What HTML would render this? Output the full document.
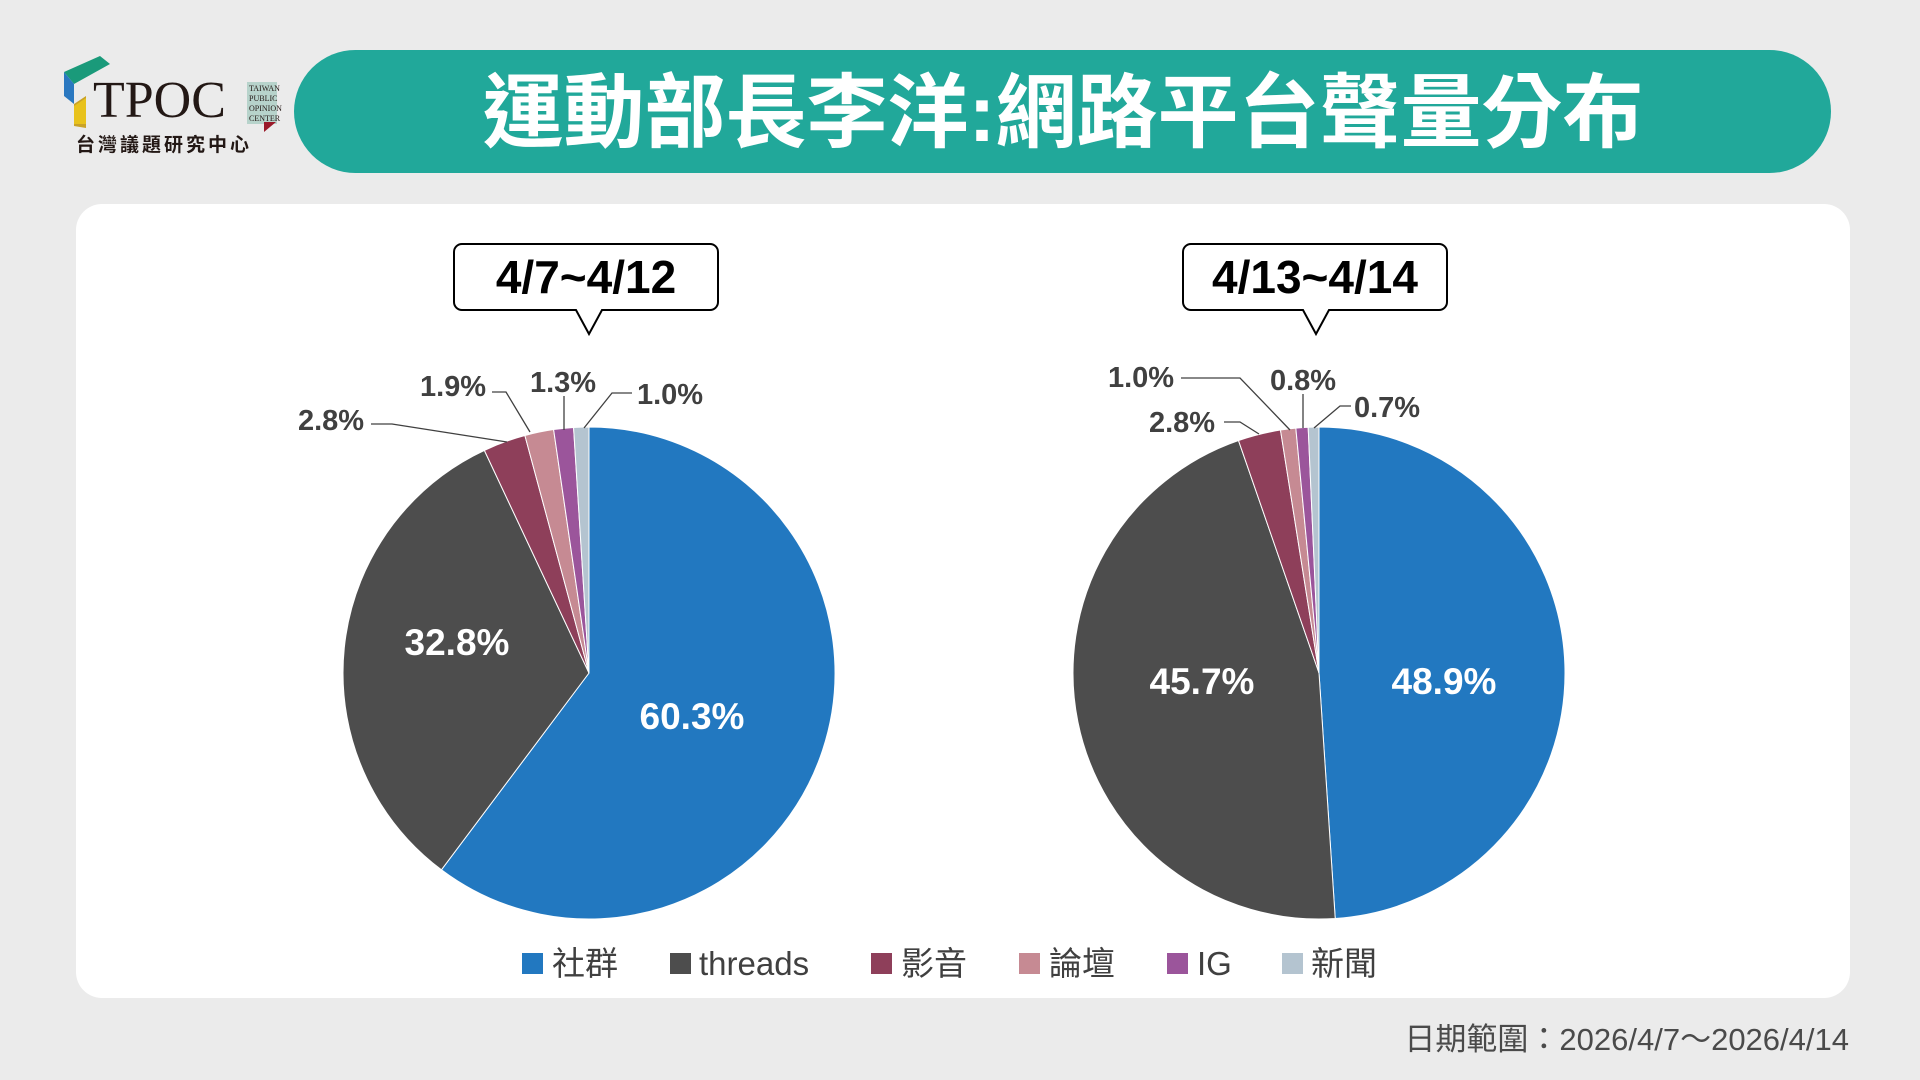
<!DOCTYPE html>
<html><head><meta charset="utf-8"><style>
body{margin:0;background:#ebebeb;}
svg{display:block;font-family:"Liberation Sans","Noto Sans CJK TC",sans-serif;}
</style></head><body>
<svg id="s" width="1920" height="1080" viewBox="0 0 1920 1080" xmlns="http://www.w3.org/2000/svg">
<rect width="1920" height="1080" fill="#ebebeb"/>
<!-- logo -->
<polygon points="64,72 100,56 110,64 74,84" fill="#1a9a7a"/>
<polygon points="64,72 74,84 74,104 64,96" fill="#2a78c0"/>
<polygon points="74,104 86,96 86,128 74,126" fill="#c9a227"/>
<polygon points="74,106 86,98 86,124 74,124" fill="#e8c21c"/>
<text x="93" y="117" font-family="Liberation Serif,serif" font-size="52" fill="#231815">TPOC</text>
<rect x="247" y="82" width="30" height="42" fill="#1a8a6a" opacity="0.25"/>
<text x="249" y="91" font-family="Liberation Serif,serif" font-size="8" fill="#231815">TAIWAN</text>
<text x="249" y="101" font-family="Liberation Serif,serif" font-size="8" fill="#231815">PUBLIC</text>
<text x="249" y="111" font-family="Liberation Serif,serif" font-size="8" fill="#231815">OPINION</text>
<text x="249" y="121" font-family="Liberation Serif,serif" font-size="8" fill="#231815">CENTER</text>
<polygon points="264,122 276,122 264,132" fill="#9a1a2a"/>
<text x="76" y="151" font-size="19" font-weight="bold" fill="#231815" letter-spacing="3">台灣議題研究中心</text>
<!-- title -->
<rect x="294" y="50" width="1537" height="123" rx="61.5" fill="#21a89a"/>
<text x="1063" y="141" text-anchor="middle" font-size="81" font-weight="bold" fill="#fff">運動部長李洋:網路平台聲量分布</text>
<!-- card -->
<rect x="76" y="204" width="1774" height="794" rx="26" fill="#fff"/>
<g id="p1"></g><g id="p2"></g>
<!-- callouts -->
<path d="M462,244 H710 a8,8 0 0 1 8,8 V302 a8,8 0 0 1 -8,8 H602 L589,334 L576,310 H462 a8,8 0 0 1 -8,-8 V252 a8,8 0 0 1 8,-8 Z" fill="#fff" stroke="#000" stroke-width="2"/>
<text x="586" y="293" text-anchor="middle" font-size="46" font-weight="bold" fill="#000">4/7~4/12</text>
<path d="M1191,244 H1439 a8,8 0 0 1 8,8 V302 a8,8 0 0 1 -8,8 H1329 L1316,334 L1303,310 H1191 a8,8 0 0 1 -8,-8 V252 a8,8 0 0 1 8,-8 Z" fill="#fff" stroke="#000" stroke-width="2"/>
<text x="1315" y="293" text-anchor="middle" font-size="46" font-weight="bold" fill="#000">4/13~4/14</text>
<!-- labels -->
<g font-weight="bold" font-size="29" fill="#404040">
<text x="331" y="430" text-anchor="middle">2.8%</text>
<text x="453" y="396" text-anchor="middle">1.9%</text>
<text x="563" y="392" text-anchor="middle">1.3%</text>
<text x="670" y="404" text-anchor="middle">1.0%</text>
<text x="1182" y="432" text-anchor="middle">2.8%</text>
<text x="1141" y="387" text-anchor="middle">1.0%</text>
<text x="1303" y="390" text-anchor="middle">0.8%</text>
<text x="1387" y="417" text-anchor="middle">0.7%</text>
</g>
<g stroke="#404040" stroke-width="1.3" fill="none">
<polyline points="371,424 392,424 507,442"/>
<polyline points="492,392 506,392 530,432"/>
<polyline points="564,396 564,430"/>
<polyline points="632,393 612,393 584,428"/>
<polyline points="1224,422 1240,422 1259,434"/>
<polyline points="1181,378 1240,378 1290,430"/>
<polyline points="1303,394 1303,428"/>
<polyline points="1351,406 1340,406 1314,428"/>
</g>
<g font-weight="bold" font-size="37" fill="#fff" text-anchor="middle">
<text x="692" y="729">60.3%</text>
<text x="457" y="655">32.8%</text>
<text x="1444" y="694">48.9%</text>
<text x="1202" y="694">45.7%</text>
</g>
<!-- legend -->
<g font-size="33" fill="#404040">
<rect x="522" y="953" width="21" height="21" fill="#2278c0"/><text x="552" y="975">社群</text>
<rect x="670" y="953" width="21" height="21" fill="#4d4d4d"/><text x="699" y="975">threads</text>
<rect x="871" y="953" width="21" height="21" fill="#8e3f5a"/><text x="901" y="975">影音</text>
<rect x="1019" y="953" width="21" height="21" fill="#c68a93"/><text x="1049" y="975">論壇</text>
<rect x="1167" y="953" width="21" height="21" fill="#9b559b"/><text x="1197" y="975">IG</text>
<rect x="1282" y="953" width="21" height="21" fill="#b4c4d0"/><text x="1311" y="975">新聞</text>
</g>
<text x="1849" y="1050" text-anchor="end" font-size="31" fill="#4a4a4a">日期範圍：2026/4/7～2026/4/14</text>
</svg>
<script>
var cols=["#2278c0","#4d4d4d","#8e3f5a","#c68a93","#9b559b","#b4c4d0"];
function pie(id,cx,cy,r,v){var g=document.getElementById(id),t=v.reduce((a,b)=>a+b,0),a=0,h="";
v.forEach(function(x,i){var a2=a+x/t*2*Math.PI;var x1=cx+r*Math.sin(a),y1=cy-r*Math.cos(a),x2=cx+r*Math.sin(a2),y2=cy-r*Math.cos(a2);
h+='<path d="M'+cx+','+cy+' L'+x1+','+y1+' A'+r+','+r+' 0 '+((a2-a)>Math.PI?1:0)+' 1 '+x2+','+y2+' Z" fill="'+cols[i]+'" stroke="#fff" stroke-width="1"/>';a=a2;});
g.innerHTML=h;}
pie("p1",589,673,246,[60.3,32.8,2.8,1.9,1.3,1.0]);
pie("p2",1319,673,246,[48.9,45.7,2.8,1.0,0.8,0.7]);
</script>
</body></html>
